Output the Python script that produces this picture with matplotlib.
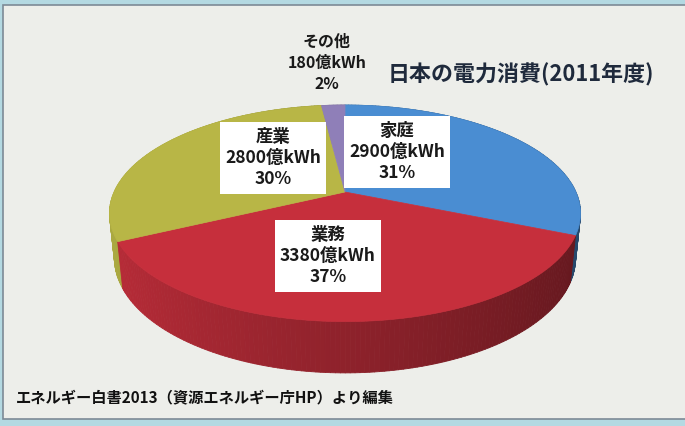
import numpy as np
import matplotlib.pyplot as plt
from matplotlib.patches import Polygon, Rectangle
from matplotlib.collections import PolyCollection
from matplotlib.colors import to_rgb

plt.rcParams['font.family'] = ['Noto Sans CJK JP', 'DejaVu Sans']

# data (億kWh), clockwise from 12 o'clock
categories = ['家庭', '業務', '産業', 'その他']
values = [2900, 3380, 2800, 180]
percents = [31, 37, 30, 2]
title = '日本の電力消費(2011年度)'
source = 'エネルギー白書2013（資源エネルギー庁HP）より編集'

colors = ['#4a8dd2', '#c62f3c', '#b8b646', '#8f7fb8']

# layout of the 3d pie (pixel space)
cx, cy = 345, 192
kx, ky = 1053, 1075
dist = 4.56
tilt = np.radians(26.2)
thick = 0.2125


def project(theta, z, r=1.0):
    x = r * np.sin(theta)
    y = -r * np.cos(theta)
    dep = dist - y * np.cos(tilt) - z * np.sin(tilt)
    px = cx + kx * x / dep
    py = cy - ky * (-y * np.sin(tilt) + z * np.cos(tilt)) / dep
    return px, py, dep


fig = plt.figure(figsize=(6.85, 4.26), dpi=100)
fig.patch.set_facecolor('#b4d9e2')
ax = fig.add_axes([0, 0, 1, 1])
ax.set_xlim(0, 685)
ax.set_ylim(426, 0)
ax.axis('off')
ax.add_patch(Rectangle((3, 5), 684, 414, facecolor='#edeeea',
                       edgecolor='#7d8a96', lw=1.2))

fracs = np.array(values) / sum(values)
edges = np.concatenate([[0], np.cumsum(fracs)]) * 2 * np.pi

# outer walls, far to near
quads, qcols, deps = [], [], []
for i in range(len(values)):
    ts = np.linspace(edges[i], edges[i + 1], max(3, int(np.degrees(edges[i + 1] - edges[i])) + 1))
    base = np.array(to_rgb(colors[i]))
    for t0, t1 in zip(ts[:-1], ts[1:]):
        x0, y0, d0 = project(t0, 0)
        x1, y1, d1 = project(t1, 0)
        x2, y2, _ = project(t1, -thick)
        x3, y3, _ = project(t0, -thick)
        quads.append([(x0, y0), (x1, y1), (x2, y2), (x3, y3)])
        f = 0.72 - 0.22 * np.sin((t0 + t1) / 2)
        qcols.append(np.clip(base * f, 0, 1))
        deps.append((d0 + d1) / 2)
order = np.argsort(deps)[::-1]
ax.add_collection(PolyCollection([quads[k] for k in order],
                                 facecolors=[qcols[k] for k in order],
                                 edgecolors=[qcols[k] for k in order], linewidths=0.6))

# top faces
for i in range(len(values)):
    ts = np.linspace(edges[i], edges[i + 1], 200)
    px, py, _ = project(ts, 0)
    pts = [(cx, cy)] + list(zip(px, py))
    ax.add_patch(Polygon(pts, closed=True, facecolor=colors[i],
                         edgecolor=colors[i], lw=0.5))

# labels
label_xy = [(397, 152), (328, 256), (273, 158), (327, 63)]
for i, cat in enumerate(categories):
    txt = f'{cat}\n{values[i]}億kWh\n{percents[i]}%'
    box = dict(boxstyle='square,pad=0.3', fc='white', ec='none') if i < 3 else None
    ax.text(label_xy[i][0], label_xy[i][1], txt, ha='center', va='center',
            fontsize=12.5 if i < 3 else 11.5, fontweight='bold', color='#1a1a1a',
            linespacing=1.25 if i < 3 else 1.4, bbox=box)

ax.text(521, 75, title, ha='center', va='center', fontsize=15.8,
        fontweight='bold', color='#1f2a3c')
ax.text(16, 397, source, ha='left', va='center', fontsize=11,
        fontweight='bold', color='#111111')

fig.savefig('out.png', dpi=100)
